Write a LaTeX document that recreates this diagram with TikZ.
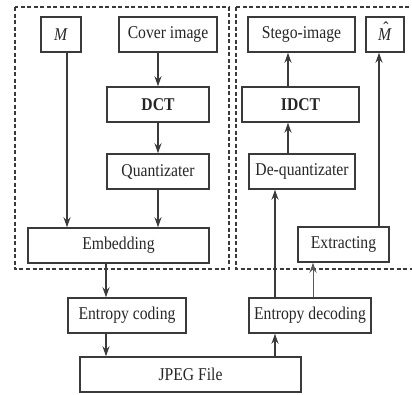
\documentclass[tikz,border=0pt]{standalone}
\usepackage{fontspec}
\setmainfont{Liberation Serif}[FakeStretch=0.87]
\usetikzlibrary{arrows.meta}
\definecolor{ink}{HTML}{3A3A3A}
\definecolor{txt}{HTML}{262626}
\newcommand{\Mhat}{\ooalign{\textit{M}\cr\hidewidth\kern0.12em\raisebox{0.3em}{\char"02C6}\hidewidth\cr}}
\tikzset{
  blk/.style={draw=ink, line width=1.5pt, minimum height=35pt, inner sep=0pt,
    text=txt, font=\fontsize{18pt}{20pt}\selectfont, anchor=center},
  grp/.style={draw=ink, line width=1.3pt, dash pattern=on 4pt off 2.5pt},
  arr/.style={draw=ink, line width=1.3pt, -{Stealth[length=10pt,width=7pt]}},
  thinarr/.style={draw=ink!85, line width=1pt, -{Stealth[length=10pt,width=7pt]}}
}
\begin{document}
\begin{tikzpicture}[x=1pt,y=-1pt]
\useasboundingbox (0,0) rectangle (412,394);
\begin{scope}
\clip (0,0) rectangle (412,394);
% dashed groups: embedding side and extraction side
\draw[grp] (15,7) rectangle (229,269);
\draw[grp] (236,7) rectangle (418,269);
\end{scope}

% embedding side
\node[blk, minimum width=40pt]  (msg)   at (61,34.5)    {\textit{M}};
\node[blk, minimum width=98pt]  (cover) at (168,34.5)   {Cover image};
\node[blk, minimum width=102pt] (dct)   at (158,104.5)  {\textbf{DCT}};
\node[blk, minimum width=102pt] (quant) at (158,171.5)  {Quantizater};
\node[blk, minimum width=181pt] (emb)   at (118.5,245.5){Embedding};

% extraction side
\node[blk, minimum width=107pt] (stego) at (301.5,34.5) {Stego-image};
\node[blk, minimum width=38pt]  (mhat)  at (385,34.5)   {\Mhat};
\node[blk, minimum width=117pt] (idct)  at (300.5,104.5){\textbf{IDCT}};
\node[blk, minimum width=106pt] (deq)   at (302,171.5)  {De-quantizater};
\node[blk, minimum width=91pt]  (ext)   at (343.5,244.5){Extracting};

% entropy stages and file
\node[blk, minimum width=118pt] (enc)   at (127,315.5)  {Entropy coding};
\node[blk, minimum width=122pt] (dec)   at (310,315.5)  {Entropy decoding};
\node[blk, minimum width=221pt] (jpeg)  at (190.5,374.5){JPEG File};

% vertical lanes of the connectors
\coordinate (xm)  at (67,0);
\coordinate (xe)  at (106,0);
\coordinate (xd)  at (275,0);
\coordinate (xi)  at (288,0);
\coordinate (xx)  at (313,0);
\coordinate (xh)  at (379,0);

\draw[arr] (msg.south -| xm) -- (emb.north -| xm);
\draw[arr] (cover.south -| dct.north) -- (dct.north);
\draw[arr] (dct.south) -- (quant.north);
\draw[arr] (quant.south) -- (quant.south |- emb.north);
\draw[arr] (emb.south -| xe) -- (enc.north -| xe);
\draw[arr] (enc.south -| xe) -- (jpeg.north -| xe);
\draw[arr] (jpeg.north -| xd) -- (dec.south -| xd);
\draw[arr] (dec.north -| xd) -- (deq.south -| xd);
\draw[arr] (deq.north -| xi) -- (idct.south -| xi);
\draw[arr] (idct.north -| xi) -- (stego.south -| xi);
\draw[thinarr] (dec.north -| xx) -- (ext.south -| xx);
\draw[arr] (ext.north -| xh) -- (mhat.south -| xh);
\end{tikzpicture}
\end{document}
